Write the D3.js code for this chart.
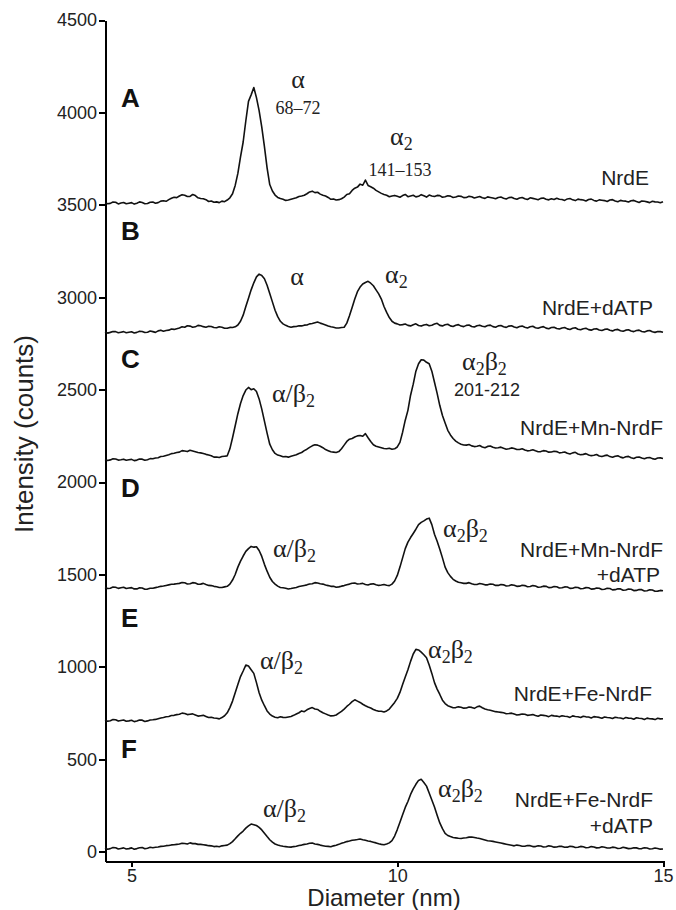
<!DOCTYPE html>
<html>
<head>
<meta charset="utf-8">
<script src="https://cdn.jsdelivr.net/npm/d3@7"></script>
<style>
  body { margin: 0; background: #fff; }
  .axis path, .axis line { stroke: #000; stroke-width: 2px; shape-rendering: crispEdges; }
  .axis text { font-family: "Liberation Sans", Arial, sans-serif; font-size: 18px; fill: #222; }
  .trace { fill: none; stroke: #111; stroke-width: 1.6px; stroke-linejoin: round; }
  .panel { font-family: "Liberation Sans", Arial, sans-serif; font-weight: bold; font-size: 26px; fill: #111; }
  .cond { font-family: "Liberation Sans", Arial, sans-serif; font-size: 21px; fill: #222; text-anchor: end; }
  .greek { font-family: "Liberation Serif", "Times New Roman", serif; font-size: 26px; fill: #222; }
  .mass { font-family: "Liberation Serif", "Times New Roman", serif; font-size: 18px; fill: #222; text-anchor: middle; }
  .title { font-family: "Liberation Sans", Arial, sans-serif; font-size: 24px; fill: #222; text-anchor: middle; }
</style>
</head>
<body>
<script>
var w = 676;
var h = 910;

// diameter grid (nm), shared by all six traces
var diameter = [4.5, 4.55, 4.6, 4.65, 4.7, 4.75, 4.8, 4.85, 4.9, 4.95,
    5.0, 5.05, 5.1, 5.15, 5.2, 5.25, 5.3, 5.35, 5.4, 5.45, 5.5, 5.55, 5.6, 5.65, 5.7, 5.75, 5.8, 5.85, 5.9, 5.95,
    6.0, 6.05, 6.1, 6.15, 6.2, 6.25, 6.3, 6.35, 6.4, 6.45, 6.5, 6.55, 6.6, 6.65, 6.7, 6.75, 6.8, 6.85, 6.9, 6.95,
    7.0, 7.05, 7.1, 7.15, 7.2, 7.25, 7.3, 7.35, 7.4, 7.45, 7.5, 7.55, 7.6, 7.65, 7.7, 7.75, 7.8, 7.85, 7.9, 7.95,
    8.0, 8.05, 8.1, 8.15, 8.2, 8.25, 8.3, 8.35, 8.4, 8.45, 8.5, 8.55, 8.6, 8.65, 8.7, 8.75, 8.8, 8.85, 8.9, 8.95,
    9.0, 9.05, 9.1, 9.15, 9.2, 9.25, 9.3, 9.35, 9.4, 9.45, 9.5, 9.55, 9.6, 9.65, 9.7, 9.75, 9.8, 9.85, 9.9, 9.95,
    10.0, 10.05, 10.1, 10.15, 10.2, 10.25, 10.3, 10.35, 10.4, 10.45, 10.5, 10.55, 10.6, 10.65, 10.7, 10.75, 10.8, 10.85, 10.9, 10.95,
    11.0, 11.05, 11.1, 11.15, 11.2, 11.25, 11.3, 11.35, 11.4, 11.45, 11.5, 11.55, 11.6, 11.65, 11.7, 11.75, 11.8, 11.85, 11.9, 11.95,
    12.0, 12.05, 12.1, 12.15, 12.2, 12.25, 12.3, 12.35, 12.4, 12.45, 12.5, 12.55, 12.6, 12.65, 12.7, 12.75, 12.8, 12.85, 12.9, 12.95,
    13.0, 13.05, 13.1, 13.15, 13.2, 13.25, 13.3, 13.35, 13.4, 13.45, 13.5, 13.55, 13.6, 13.65, 13.7, 13.75, 13.8, 13.85, 13.9, 13.95,
    14.0, 14.05, 14.1, 14.15, 14.2, 14.25, 14.3, 14.35, 14.4, 14.45, 14.5, 14.55, 14.6, 14.65, 14.7, 14.75, 14.8, 14.85, 14.9, 14.95,
    15.0];

// A: NrdE
var traceA = [3512, 3506, 3508, 3515, 3514, 3505, 3510, 3513, 3506, 3509,
    3512, 3504, 3509, 3516, 3513, 3506, 3507, 3514, 3515, 3509, 3512, 3520, 3522, 3519, 3528, 3536, 3541, 3539, 3548, 3555,
    3552, 3545, 3546, 3556, 3550, 3538, 3534, 3533, 3528, 3518, 3521, 3514, 3516, 3512, 3520, 3517, 3526, 3538, 3560, 3605,
    3670, 3760, 3840, 3955, 4060, 4095, 4135, 4080, 4010, 3920, 3815, 3700, 3610, 3575, 3553, 3540, 3534, 3530, 3524, 3526,
    3530, 3534, 3538, 3545, 3548, 3552, 3560, 3570, 3574, 3566, 3568, 3558, 3552, 3548, 3540, 3530, 3532, 3526, 3528, 3533,
    3542, 3556, 3560, 3578, 3590, 3596, 3612, 3606, 3634, 3605, 3598, 3590, 3578, 3570, 3562, 3556, 3552, 3544, 3548, 3551,
    3546, 3541, 3550, 3556, 3544, 3548, 3552, 3543, 3546, 3555, 3549, 3542, 3553, 3548, 3545, 3551, 3550, 3541, 3544, 3549,
    3547, 3540, 3542, 3548, 3546, 3539, 3540, 3546, 3544, 3537, 3541, 3545, 3538, 3535, 3543, 3540, 3537, 3533, 3540, 3542,
    3536, 3532, 3539, 3541, 3534, 3530, 3537, 3540, 3533, 3529, 3538, 3535, 3532, 3528, 3535, 3537, 3530, 3527, 3533, 3529,
    3536, 3530, 3529, 3524, 3532, 3534, 3527, 3523, 3531, 3528, 3526, 3521, 3529, 3531, 3524, 3520, 3527, 3525, 3523, 3518,
    3526, 3528, 3521, 3517, 3524, 3521, 3520, 3515, 3522, 3524, 3518, 3513, 3521, 3519, 3516, 3512, 3519, 3516, 3515, 3511,
    3517];

// B: NrdE+dATP
var traceB = [2812, 2806, 2810, 2815, 2814, 2808, 2811, 2814, 2808, 2811,
    2813, 2807, 2810, 2816, 2815, 2809, 2811, 2817, 2814, 2810, 2818, 2822, 2816, 2820, 2822, 2828, 2826, 2830, 2834, 2840,
    2838, 2846, 2844, 2838, 2840, 2848, 2846, 2841, 2838, 2843, 2842, 2836, 2835, 2840, 2838, 2832, 2832, 2837, 2836, 2840,
    2850, 2870, 2903, 2950, 2995, 3040, 3078, 3110, 3125, 3118, 3100, 3065, 3020, 2975, 2930, 2895, 2870, 2856, 2848, 2842,
    2838, 2841, 2842, 2846, 2845, 2849, 2850, 2856, 2858, 2862, 2866, 2860, 2855, 2850, 2844, 2840, 2838, 2834, 2834, 2836,
    2838, 2860, 2900, 2945, 2990, 3030, 3055, 3072, 3080, 3086, 3076, 3062, 3040, 3018, 2990, 2950, 2918, 2890, 2870, 2860,
    2856, 2850, 2852, 2855, 2848, 2845, 2851, 2856, 2847, 2844, 2850, 2853, 2846, 2849, 2855, 2859, 2848, 2845, 2851, 2854,
    2845, 2842, 2849, 2852, 2844, 2841, 2848, 2850, 2842, 2839, 2846, 2849, 2843, 2840, 2847, 2849, 2841, 2838, 2845, 2847,
    2840, 2837, 2844, 2846, 2839, 2835, 2842, 2844, 2838, 2834, 2840, 2843, 2835, 2832, 2838, 2841, 2833, 2830, 2836, 2838,
    2831, 2828, 2834, 2836, 2829, 2826, 2832, 2835, 2827, 2824, 2830, 2832, 2825, 2822, 2828, 2830, 2823, 2820, 2826, 2828,
    2821, 2818, 2824, 2826, 2819, 2816, 2822, 2824, 2817, 2814, 2820, 2822, 2815, 2812, 2818, 2820, 2813, 2810, 2815, 2814,
    2811];

// C: NrdE+Mn-NrdF
var traceC = [2122, 2117, 2120, 2126, 2125, 2119, 2121, 2124, 2118, 2121,
    2123, 2116, 2119, 2125, 2124, 2118, 2121, 2127, 2126, 2130, 2132, 2138, 2140, 2144, 2148, 2154, 2156, 2160, 2162, 2170,
    2168, 2165, 2172, 2168, 2164, 2160, 2158, 2155, 2150, 2146, 2142, 2135, 2136, 2133, 2138, 2140, 2142, 2180, 2240, 2305,
    2370, 2425, 2468, 2498, 2512, 2500, 2505, 2490, 2450, 2395, 2330, 2265, 2205, 2175, 2155, 2146, 2142, 2137, 2138, 2135,
    2140, 2144, 2148, 2155, 2160, 2170, 2178, 2188, 2196, 2202, 2200, 2194, 2186, 2176, 2170, 2164, 2162, 2160, 2165, 2180,
    2200, 2220, 2232, 2236, 2244, 2250, 2252, 2248, 2262, 2240, 2220, 2202, 2194, 2190, 2186, 2182, 2180, 2183, 2178, 2180,
    2190, 2215, 2270, 2335, 2388, 2470, 2530, 2600, 2640, 2662, 2660, 2648, 2640, 2600, 2540, 2480, 2414, 2360, 2320, 2280,
    2255, 2236, 2222, 2212, 2205, 2201, 2200, 2203, 2196, 2192, 2194, 2198, 2190, 2186, 2193, 2195, 2188, 2184, 2186, 2189,
    2183, 2178, 2180, 2185, 2182, 2176, 2176, 2180, 2174, 2169, 2171, 2175, 2169, 2164, 2165, 2170, 2168, 2162, 2163, 2167,
    2165, 2158, 2160, 2163, 2156, 2152, 2158, 2161, 2152, 2148, 2150, 2154, 2147, 2143, 2145, 2149, 2141, 2138, 2143, 2146,
    2138, 2134, 2140, 2142, 2135, 2131, 2137, 2139, 2132, 2128, 2134, 2136, 2130, 2126, 2132, 2133, 2127, 2124, 2130, 2131,
    2128];

// D: NrdE+Mn-NrdF+dATP
var traceD = [1430, 1424, 1426, 1432, 1431, 1425, 1428, 1431, 1424, 1427,
    1429, 1422, 1422, 1428, 1427, 1420, 1421, 1426, 1426, 1429, 1432, 1436, 1438, 1441, 1444, 1447, 1448, 1450, 1452, 1457,
    1455, 1449, 1450, 1456, 1454, 1447, 1448, 1452, 1446, 1441, 1440, 1436, 1434, 1430, 1430, 1433, 1436, 1448, 1470, 1500,
    1540, 1572, 1600, 1625, 1640, 1652, 1648, 1650, 1630, 1598, 1555, 1518, 1485, 1462, 1448, 1437, 1430, 1428, 1426, 1422,
    1424, 1427, 1430, 1435, 1438, 1441, 1444, 1449, 1450, 1456, 1454, 1450, 1448, 1443, 1440, 1436, 1436, 1431, 1433, 1437,
    1440, 1445, 1448, 1453, 1454, 1449, 1450, 1452, 1446, 1443, 1448, 1450, 1445, 1441, 1443, 1446, 1442, 1440, 1448, 1465,
    1495, 1540, 1590, 1640, 1675, 1700, 1722, 1745, 1770, 1782, 1790, 1800, 1805, 1770, 1718, 1680, 1637, 1590, 1540, 1510,
    1490, 1474, 1465, 1458, 1455, 1452, 1452, 1456, 1450, 1446, 1446, 1451, 1449, 1444, 1444, 1449, 1447, 1441, 1441, 1446,
    1444, 1438, 1439, 1444, 1442, 1436, 1437, 1442, 1440, 1434, 1435, 1440, 1438, 1431, 1432, 1437, 1436, 1429, 1430, 1435,
    1434, 1427, 1428, 1433, 1432, 1425, 1426, 1431, 1430, 1423, 1424, 1429, 1428, 1421, 1422, 1427, 1426, 1419, 1420, 1425,
    1424, 1417, 1418, 1423, 1422, 1415, 1416, 1421, 1420, 1413, 1414, 1419, 1418, 1411, 1412, 1417, 1416, 1409, 1410, 1414,
    1412];

// E: NrdE+Fe-NrdF
var traceE = [712, 706, 709, 715, 714, 707, 710, 713, 706, 708,
    711, 704, 707, 713, 712, 705, 708, 713, 714, 716, 720, 724, 726, 730, 732, 737, 738, 742, 744, 750,
    748, 742, 744, 746, 740, 734, 736, 738, 732, 726, 728, 724, 722, 719, 726, 736, 752, 780, 815, 860,
    905, 948, 978, 1010, 1005, 985, 965, 915, 860, 820, 790, 762, 745, 734, 728, 725, 730, 727, 726, 729,
    732, 738, 745, 752, 762, 758, 768, 775, 780, 772, 770, 760, 752, 746, 740, 735, 736, 740, 750, 760,
    772, 786, 798, 812, 822, 815, 808, 798, 790, 783, 778, 770, 764, 760, 760, 756, 762, 772, 790, 808,
    830, 862, 905, 945, 985, 1030, 1070, 1095, 1092, 1080, 1066, 1050, 1010, 965, 915, 880, 851, 820, 802, 790,
    785, 779, 780, 784, 782, 777, 778, 783, 781, 776, 784, 788, 779, 772, 768, 766, 762, 758, 756, 754,
    752, 747, 748, 750, 745, 740, 742, 745, 744, 738, 740, 742, 737, 733, 740, 738, 736, 731, 738, 735,
    734, 730, 736, 733, 732, 727, 735, 732, 730, 726, 733, 730, 729, 724, 731, 729, 727, 722, 729, 726,
    725, 721, 728, 725, 724, 719, 726, 723, 722, 717, 725, 722, 721, 716, 723, 720, 719, 715, 722, 719,
    720];

// F: NrdE+Fe-NrdF+dATP
var traceF = [20, 14, 17, 23, 22, 15, 18, 21, 15, 17,
    21, 14, 17, 22, 23, 16, 19, 24, 22, 24, 26, 29, 30, 33, 34, 37, 38, 40, 42, 46,
    45, 42, 48, 44, 44, 40, 40, 38, 36, 33, 32, 28, 30, 27, 32, 34, 36, 44, 55, 70,
    86, 100, 112, 128, 140, 150, 146, 142, 132, 118, 100, 82, 65, 52, 42, 37, 33, 30, 28, 26,
    25, 28, 30, 34, 36, 40, 42, 46, 47, 42, 40, 36, 33, 30, 29, 27, 32, 35, 40, 46,
    50, 55, 58, 62, 64, 66, 69, 65, 62, 58, 56, 52, 48, 43, 40, 38, 42, 48, 60, 85,
    120, 160, 200, 240, 272, 310, 340, 365, 386, 392, 375, 355, 318, 280, 242, 198, 156, 125, 100, 88,
    82, 77, 75, 73, 72, 74, 76, 79, 80, 77, 74, 72, 68, 64, 60, 58, 56, 53, 50, 47,
    44, 41, 38, 35, 32, 36, 34, 30, 30, 34, 33, 28, 28, 32, 31, 26, 27, 32, 30, 25,
    26, 30, 29, 24, 25, 30, 28, 23, 24, 29, 27, 22, 23, 28, 26, 21, 22, 27, 24, 20,
    20, 25, 23, 18, 19, 24, 21, 17, 18, 22, 21, 16, 17, 22, 20, 15, 16, 20, 18, 14,
    15];

var allTraces = [traceA, traceB, traceC, traceD, traceE, traceF];
var panelLetters = ["A", "B", "C", "D", "E", "F"];

// tick labels
var xTicks = [5, 10, 15];
var yTicks = [0, 500, 1000, 1500, 2000, 2500, 3000, 3500, 4000, 4500];

var svg = d3.select('body').append('svg')
    .attr('width', w)
    .attr('height', h);

// Scales
var xScale = d3.scaleLinear()
    .domain([4.5, 15])
    .range([105, 663]);

var yScale = d3.scaleLinear()
    .domain([-50, 4500])
    .range([861, 20]);

// X-axis
svg.append('g')
    .attr('class', 'axis')
    .attr('transform', 'translate(0,861)')
    .call(d3.axisBottom(xScale).tickValues(xTicks).tickFormat(d3.format('d'))
        .tickSize(6).tickSizeOuter(0).tickPadding(2));

// Y-axis
svg.append('g')
    .attr('class', 'axis')
    .attr('transform', 'translate(105,0)')
    .call(d3.axisLeft(yScale).tickValues(yTicks).tickFormat(d3.format('d'))
        .tickSize(6).tickSizeOuter(0).tickPadding(2));

// axis titles
svg.append('text')
    .attr('class', 'title')
    .attr('x', 384)
    .attr('y', 906)
    .text('Diameter (nm)');

svg.append('text')
    .attr('class', 'title')
    .attr('transform', 'translate(33,434) rotate(-90)')
    .style('font-size', '26px')
    .text('Intensity (counts)');

// traces
var line = d3.line()
    .x(function (d, i) { return xScale(diameter[i]); })
    .y(function (d) { return yScale(d); });

svg.selectAll('.trace')
    .data(allTraces)
    .enter()
    .append('path')
    .attr('class', 'trace')
    .attr('d', line);

// panel letters
var letterBase = [107, 240, 368, 497, 627, 758];
svg.selectAll('.panel')
    .data(panelLetters)
    .enter()
    .append('text')
    .attr('class', 'panel')
    .attr('x', 121)
    .attr('y', function (d, i) { return letterBase[i]; })
    .text(function (d) { return d; });

// condition labels
function cond(x, y, txt) {
    svg.append('text').attr('class', 'cond').attr('x', x).attr('y', y).text(txt);
}
cond(649, 185, 'NrdE');
cond(653, 315, 'NrdE+dATP');
cond(663, 435, 'NrdE+Mn-NrdF');
cond(663, 557, 'NrdE+Mn-NrdF');
cond(660, 582, '+dATP');
cond(652, 701, 'NrdE+Fe-NrdF');
cond(653, 807, 'NrdE+Fe-NrdF');
cond(653, 833, '+dATP');

// greek species labels, parts = [[text, isSubscript], ...]
function greek(x, y, parts, anchor) {
    var t = svg.append('text')
        .attr('class', 'greek')
        .attr('x', x)
        .attr('y', y)
        .style('text-anchor', anchor || 'start');
    var low = false;
    parts.forEach(function (p) {
        var s = t.append('tspan').text(p[0]);
        if (p[1] && !low) { s.attr('dy', 5).style('font-size', '18px'); low = true; }
        else if (p[1]) { s.style('font-size', '18px'); }
        else if (low) { s.attr('dy', -5); low = false; }
    });
}
var alpha = [['α', false]];
var alpha2 = [['α', false], ['2', true]];
var alphaBeta2 = [['α/β', false], ['2', true]];
var alpha2beta2 = [['α', false], ['2', true], ['β', false], ['2', true]];

greek(298, 88, alpha, 'middle');
greek(390, 145, alpha2);
greek(297, 285, alpha, 'middle');
greek(385, 283, alpha2);
greek(272, 402, alphaBeta2);
greek(462, 370, alpha2beta2);
greek(273, 557, alphaBeta2);
greek(443, 537, alpha2beta2);
greek(260, 669, alphaBeta2);
greek(428, 658, alpha2beta2);
greek(263, 817, alphaBeta2);
greek(438, 797, alpha2beta2);

// mass ranges (kDa)
svg.append('text').attr('class', 'mass').attr('x', 298).attr('y', 114).text('68–72');
svg.append('text').attr('class', 'mass').attr('x', 400).attr('y', 176).text('141–153');
svg.append('text').attr('class', 'cond')
    .style('text-anchor', 'middle').style('font-size', '18px')
    .attr('x', 487).attr('y', 396).text('201-212');
</script>
</body>
</html>
